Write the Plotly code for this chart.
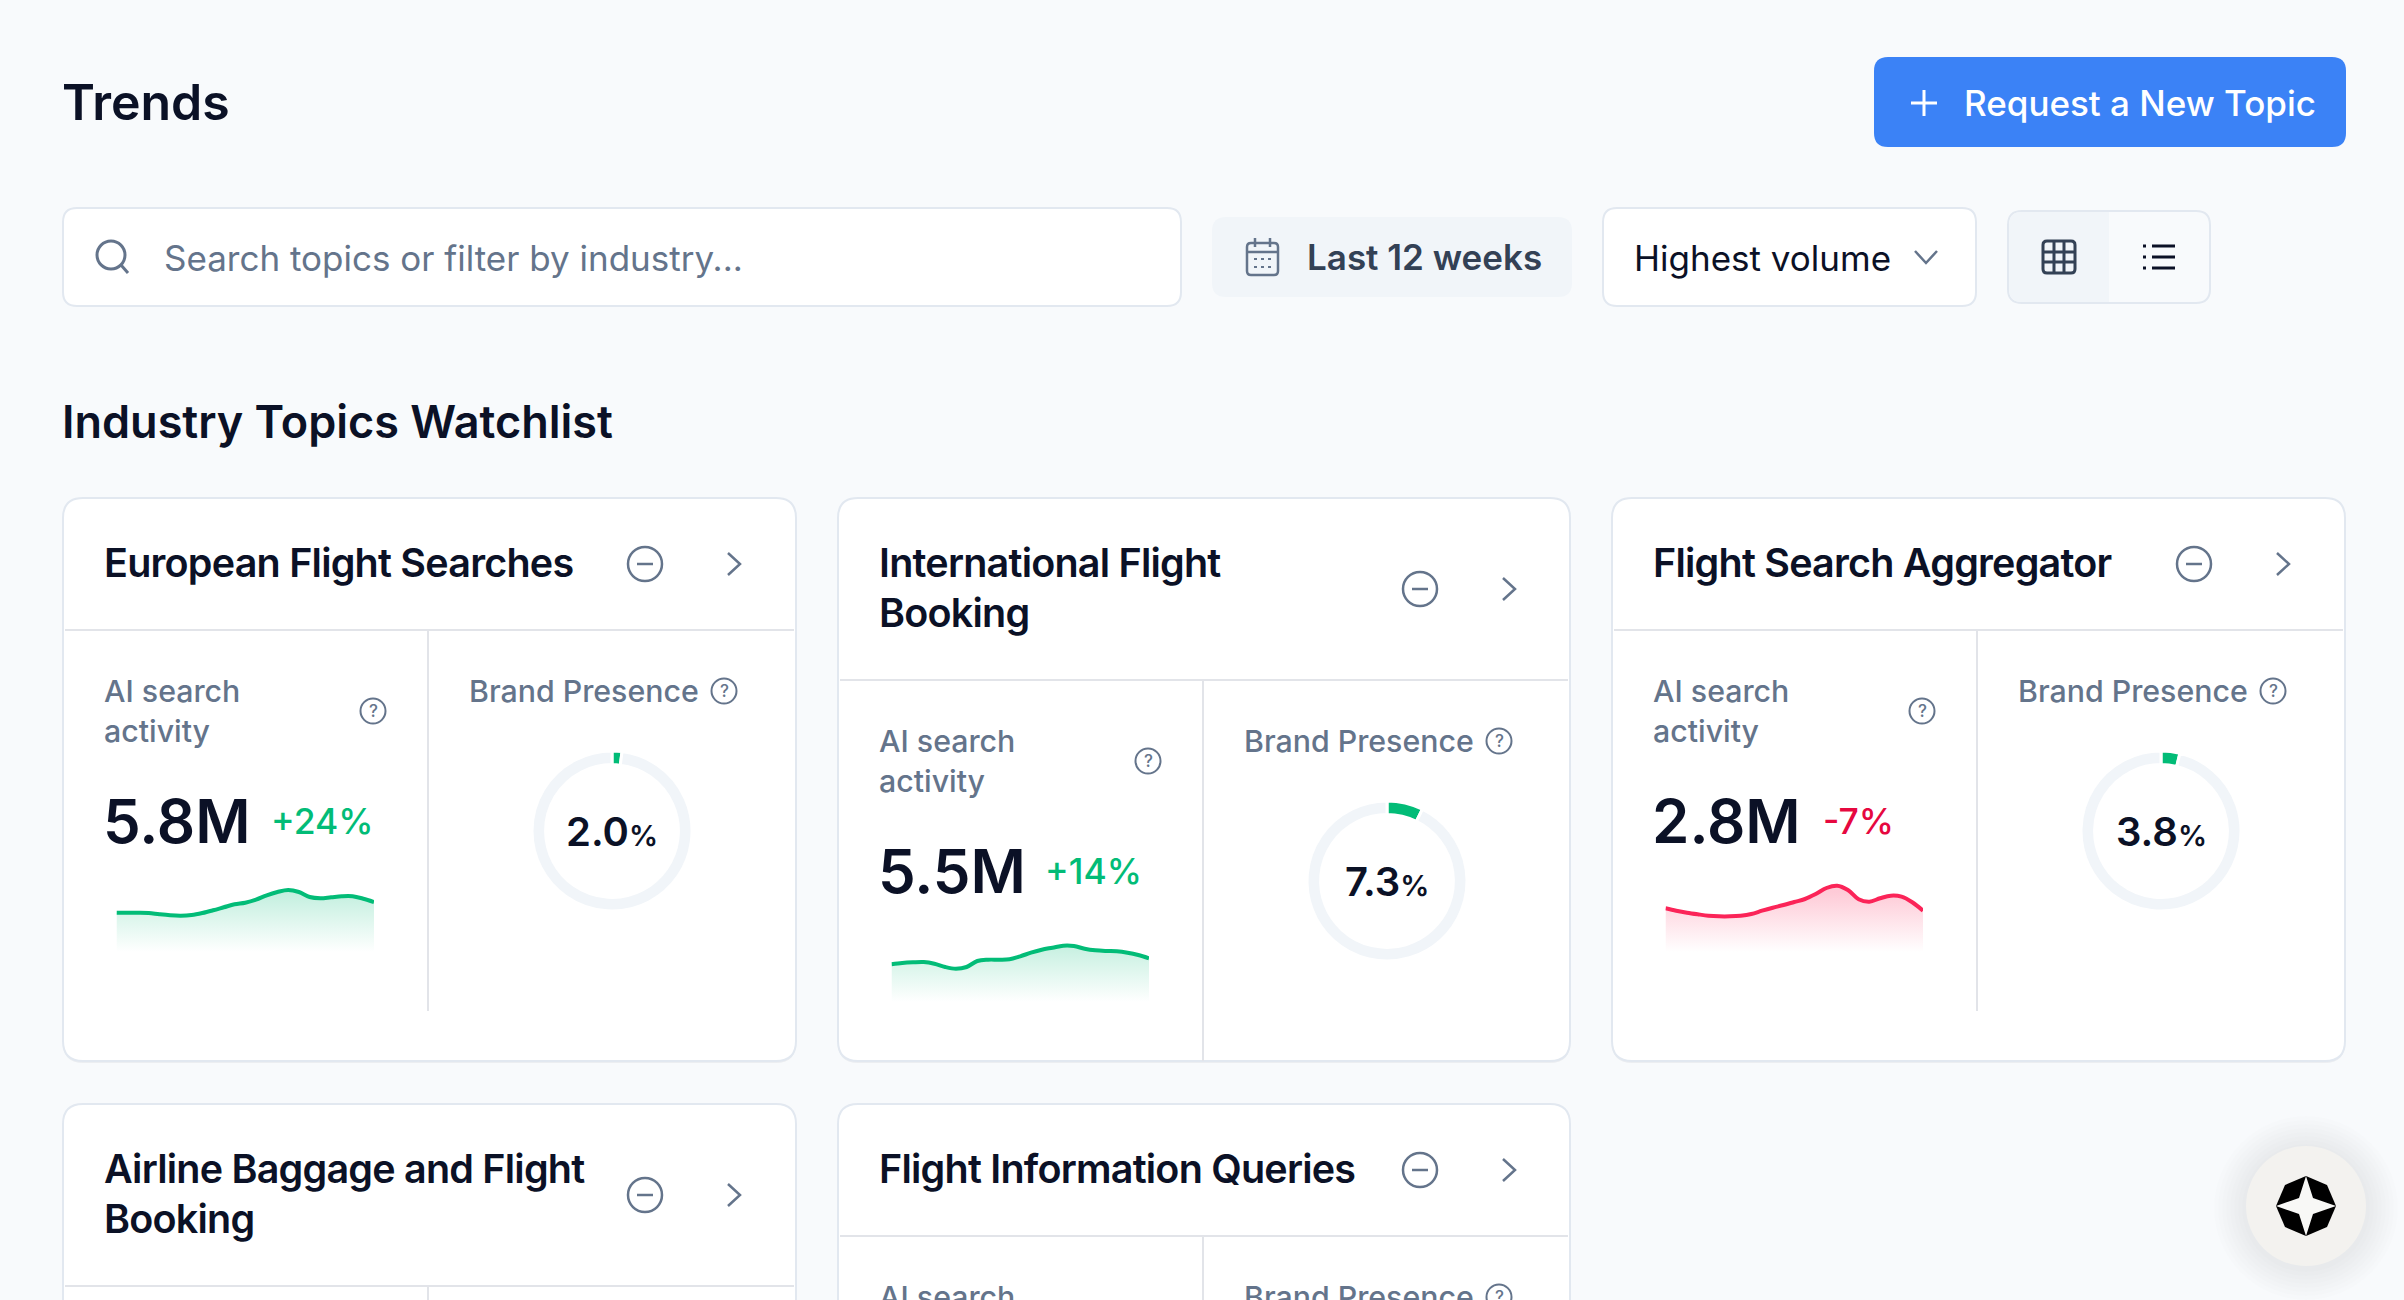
import plotly.graph_objects as go

WIDTH = 2404
HEIGHT = 1300

COLOUR_PAGE = "#f8fafc"
COLOUR_BORDER = "#e2e8f0"
COLOUR_DIVIDER = "#e2e4e9"
COLOUR_INK = "#0b1126"
COLOUR_SLATE = "#64748b"
COLOUR_SLATE_DARK = "#334155"
COLOUR_TRACK = "#f1f5f9"
COLOUR_BLUE = "#3b82f6"
COLOUR_GREEN = "#02bc77"
COLOUR_RED = "#fb2458"
COLOUR_RED_TEXT = "#e6083f"
FONT = "Inter"

CARD_TITLES = [
    ["European Flight Searches"],
    ["International Flight", "Booking"],
    ["Flight Search Aggregator"],
    ["Airline Baggage and Flight", "Booking"],
    ["Flight Information Queries"],
]
SEARCH_VOLUMES = ["5.8M", "5.5M", "2.8M"]
VOLUME_CHANGES = ["+24%", "+14%", "-7%"]
BRAND_PRESENCE = [2.0, 7.3, 3.8]

WEEKS = [0, 0.5, 1, 1.5, 2, 2.5, 3, 3.5, 4, 4.5, 5, 5.5, 6, 6.5, 7, 7.5, 8, 8.5, 9, 9.5, 10, 10.5, 11, 11.5, 12]
ACTIVITY_EUROPEAN = [
    39.3, 39.3, 39.3, 39, 37.7, 36.7, 36.3, 37, 39, 41.7, 44.7, 47.7, 49.3,
    52.3, 56.7, 60, 62, 60, 55, 53.7, 54.7, 55.7, 55.7, 53.3, 50,
]
ACTIVITY_INTERNATIONAL = [
    37.7, 39, 39.7, 40, 38.3, 35, 33.3, 35, 41, 42.3, 42.3, 42.7, 45.7,
    49.3, 52.3, 54.3, 56.3, 56, 53.3, 51.7, 51, 50.7, 49.3, 47, 43.7,
]
ACTIVITY_AGGREGATOR = [
    43.7, 41.3, 39.3, 37.7, 36.3, 35.7, 35.7, 36.3, 38, 41.3, 44.3, 47, 50,
    53, 58, 64, 66.3, 62, 52.7, 50.3, 53.7, 56.3, 55.3, 49.7, 41.3,
]
ACTIVITY = [ACTIVITY_EUROPEAN, ACTIVITY_INTERNATIONAL, ACTIVITY_AGGREGATOR]

CARD_LEFT = [63, 838, 1612, 63, 838]
CARD_RIGHT = [796, 1570, 2345, 796, 1570]
CARD_TOP = [498, 498, 498, 1104, 1104]
CHANGE_OFFSET = [208, 207, 211]


def rounded_path(x0, y0, x1, y1, r):
    return (
        f"M {x0 + r} {y0} L {x1 - r} {y0} Q {x1} {y0} {x1} {y0 + r} "
        f"L {x1} {y1 - r} Q {x1} {y1} {x1 - r} {y1} "
        f"L {x0 + r} {y1} Q {x0} {y1} {x0} {y1 - r} "
        f"L {x0} {y0 + r} Q {x0} {y0} {x0 + r} {y0} Z"
    )


def add_box(fig, x0, y0, x1, y1, r, fill, border=None, width=2):
    fig.add_shape(
        type="path", path=rounded_path(x0, y0, x1, y1, r),
        fillcolor=fill, layer="below",
        line={"color": border or fill, "width": width if border else 0},
    )


def add_path(fig, path, colour, width=2.5, fill=None):
    fig.add_shape(
        type="path", path=path, layer="below",
        line={"color": colour, "width": width},
        fillcolor=fill or "rgba(0,0,0,0)",
    )


def add_circle(fig, cx, cy, r, colour, width=2.5, fill=None):
    fig.add_shape(
        type="circle", x0=cx - r, x1=cx + r, y0=cy - r, y1=cy + r,
        layer="below", line={"color": colour, "width": width},
        fillcolor=fill or "rgba(0,0,0,0)",
    )


def add_text(fig, x, y, text, size, colour, weight=400, anchor="left"):
    fig.add_annotation(
        x=x, y=y, xref="x", yref="y", text=text, showarrow=False,
        xanchor=anchor, yanchor="middle", align=anchor,
        borderpad=0, borderwidth=0,
        font={"family": FONT, "size": size, "color": colour, "weight": weight},
    )


def add_question(fig, cx, cy):
    add_circle(fig, cx, cy, 12.5, COLOUR_SLATE, 2)
    add_text(fig, cx, cy, "?", 17, COLOUR_SLATE, 500, "center")


def add_header(fig):
    add_text(fig, 62, 102, "Trends", 50, COLOUR_INK, 600)

    add_box(fig, 1874, 57, 2346, 147, 14, COLOUR_BLUE)
    add_path(fig, "M 1911 103 L 1937 103 M 1924 90 L 1924 116", "white", 3)
    add_text(fig, 1964, 103, "Request a New Topic", 35, "white", 500)

    add_box(fig, 63, 208, 1181, 306, 14, "white", COLOUR_BORDER)
    add_circle(fig, 111, 255, 14, COLOUR_SLATE, 3)
    add_path(fig, "M 121 265 L 128 273", COLOUR_SLATE, 3)
    add_text(fig, 164, 258, "Search topics or filter by industry...", 35, COLOUR_SLATE)

    add_box(fig, 1212, 217, 1572, 297, 14, COLOUR_TRACK)
    add_box(fig, 1247, 243, 1278, 275, 4, COLOUR_TRACK, COLOUR_SLATE, 2.5)
    add_path(fig, "M 1247 252 L 1278 252 M 1255 238 L 1255 247 M 1270 238 L 1270 247", COLOUR_SLATE, 2.5)
    add_path(
        fig,
        "M 1254 259 L 1257 259 M 1261 259 L 1264 259 M 1268 259 L 1271 259 "
        "M 1254 267 L 1257 267 M 1261 267 L 1264 267 M 1268 267 L 1271 267",
        COLOUR_SLATE, 2,
    )
    add_text(fig, 1307, 257, "Last 12 weeks", 35, COLOUR_SLATE_DARK, 600)

    add_box(fig, 1603, 208, 1976, 306, 14, "white", COLOUR_BORDER)
    add_text(fig, 1634, 258, "Highest volume", 35, COLOUR_INK)
    add_path(fig, "M 1915 251 L 1926 263 L 1937 251", COLOUR_SLATE, 2.5)

    add_box(fig, 2008, 211, 2210, 303, 14, COLOUR_PAGE, COLOUR_BORDER)
    add_path(
        fig,
        "M 2109 212 L 2022 212 Q 2009 212 2009 225 L 2009 289 Q 2009 302 2022 302 L 2109 302 Z",
        COLOUR_TRACK, 0, COLOUR_TRACK,
    )
    add_box(fig, 2043, 241, 2075, 273, 4, COLOUR_TRACK, COLOUR_SLATE_DARK, 3)
    add_path(
        fig,
        "M 2054 241 L 2054 273 M 2064 241 L 2064 273 M 2043 252 L 2075 252 M 2043 262 L 2075 262",
        COLOUR_SLATE_DARK, 3,
    )
    add_path(
        fig,
        "M 2152 246 L 2175 246 M 2152 257 L 2175 257 M 2152 268 L 2175 268 "
        "M 2143 246 L 2146 246 M 2143 257 L 2146 257 M 2143 268 L 2146 268",
        COLOUR_INK, 3,
    )

    add_text(fig, 62, 421, "Industry Topics Watchlist", 45, COLOUR_INK, 600)


def add_card(fig, i):
    left, right, top = CARD_LEFT[i], CARD_RIGHT[i], CARD_TOP[i]
    lines = CARD_TITLES[i]
    header = top + 82 + 50 * len(lines)
    bottom = top + 563

    add_box(fig, left, top + 2, right, bottom + 2, 20, "rgba(15,23,42,0.05)")
    add_box(fig, left, top, right, bottom, 20, "white", COLOUR_BORDER)
    add_path(fig, f"M {left + 2} {header} L {right - 2} {header}", COLOUR_DIVIDER, 2)
    add_path(fig, f"M {left + 365} {header} L {left + 365} {top + 513 + 50 * (len(lines) - 1)}", COLOUR_DIVIDER, 2)

    # titles are set tight in the original, plotly has no font option for that
    for n, line in enumerate(lines):
        tight = f'<span style="letter-spacing:-0.78px">{line}</span>'
        add_text(fig, left + 41, top + 65 + 50 * n, tight, 39.5, COLOUR_INK, 600)

    mid = top + 16 + 25 * len(lines) + 25
    add_circle(fig, left + 582, mid, 17, COLOUR_SLATE, 2.5)
    add_path(fig, f"M {left + 574} {mid} L {left + 590} {mid}", COLOUR_SLATE, 2.5)
    add_path(fig, f"M {left + 665} {mid - 11} L {left + 677} {mid} L {left + 665} {mid + 11}", COLOUR_SLATE, 2.5)

    add_text(fig, left + 41, header + 61, "AI search", 30.3, COLOUR_SLATE, 500)
    add_text(fig, left + 41, header + 101, "activity", 30.3, COLOUR_SLATE, 500)
    add_text(fig, left + 406, header + 61, "Brand Presence", 30.3, COLOUR_SLATE, 500)
    add_question(fig, left + 661, header + 61)
    add_question(fig, left + 310, header + 81)

    return left, header


def add_metrics(fig, i, left, header):
    rising = not VOLUME_CHANGES[i].startswith("-")
    line_colour = COLOUR_GREEN if rising else COLOUR_RED
    fade = "2,188,119" if rising else "251,36,88"

    add_text(fig, left + 40, header + 191, SEARCH_VOLUMES[i], 60, COLOUR_INK, 600)
    add_text(
        fig, left + CHANGE_OFFSET[i], header + 191, VOLUME_CHANGES[i], 35.5,
        COLOUR_GREEN if rising else COLOUR_RED_TEXT, 500,
    )

    axis = i + 2
    fig.add_trace(go.Scatter(
        x=WEEKS, y=ACTIVITY[i], mode="lines",
        line={"color": line_colour, "width": 4, "shape": "spline", "smoothing": 1},
        fill="tozeroy",
        fillgradient={
            "type": "vertical", "start": 0, "stop": 60,
            "colorscale": [[0, f"rgba({fade},0)"], [1, f"rgba({fade},0.24)"]],
        },
        xaxis=f"x{axis}", yaxis=f"y{axis}",
        showlegend=False, hoverinfo="skip",
    ))
    fig.update_layout({
        f"xaxis{axis}": {
            "domain": [(left + 53.5) / WIDTH, (left + 311) / WIDTH],
            "range": [0, 12], "visible": False, "anchor": f"y{axis}",
        },
        f"yaxis{axis}": {
            "domain": [1 - (header + 322) / HEIGHT, 1 - (header + 242) / HEIGHT],
            "range": [0, 80], "visible": False, "anchor": f"x{axis}",
        },
    })

    cx, cy, r = left + 549, header + 201, 80
    fig.add_trace(go.Pie(
        values=[BRAND_PRESENCE[i], 100 - BRAND_PRESENCE[i]],
        hole=0.83, sort=False, direction="clockwise", rotation=0,
        textinfo="none", hoverinfo="skip", showlegend=False,
        marker={"colors": [COLOUR_GREEN, COLOUR_TRACK], "line": {"color": "white", "width": 3}},
        domain={
            "x": [(cx - r) / WIDTH, (cx + r) / WIDTH],
            "y": [1 - (cy + r) / HEIGHT, 1 - (cy - r) / HEIGHT],
        },
    ))
    add_text(
        fig, cx, cy,
        f'{BRAND_PRESENCE[i]:.1f}<span style="font-size:29px">%</span>',
        40, COLOUR_INK, 600, "center",
    )


def add_assistant(fig):
    cx, cy = 2306, 1206
    for r in range(92, 60, -4):
        add_circle(fig, cx, cy + 2, r, "rgba(0,0,0,0)", 0, "rgba(15,23,42,0.006)")
    add_circle(fig, cx, cy, 60, "#f3f2ef", 0, "#f3f2ef")

    octagon = [(0, -30), (21, -21), (30, 0), (21, 21), (0, 30), (-21, 21), (-30, 0), (-21, -21)]
    star = [(0, -30), (7, -8), (30, 0), (7, 8), (0, 30), (-7, 8), (-30, 0), (-7, -8)]
    for points, colour in ((octagon, "black"), (star, "#f8f8f6")):
        path = "M " + " L ".join(f"{cx + a} {cy + b}" for a, b in points) + " Z"
        add_path(fig, path, colour, 0, colour)


fig = go.Figure()
add_header(fig)
for i in range(len(CARD_TITLES)):
    left, header = add_card(fig, i)
    if i < len(ACTIVITY):
        add_metrics(fig, i, left, header)
add_assistant(fig)

fig.update_layout(
    width=WIDTH, height=HEIGHT,
    margin={"l": 0, "r": 0, "t": 0, "b": 0},
    paper_bgcolor=COLOUR_PAGE, plot_bgcolor="rgba(0,0,0,0)",
    hovermode=False, showlegend=False,
    xaxis={"range": [0, WIDTH], "visible": False, "domain": [0, 1], "fixedrange": True},
    yaxis={"range": [HEIGHT, 0], "visible": False, "domain": [0, 1], "fixedrange": True},
)

fig.write_html(
    "out.html",
    config={"displayModeBar": False},
    post_script="document.body.style.margin = '0';",
)
